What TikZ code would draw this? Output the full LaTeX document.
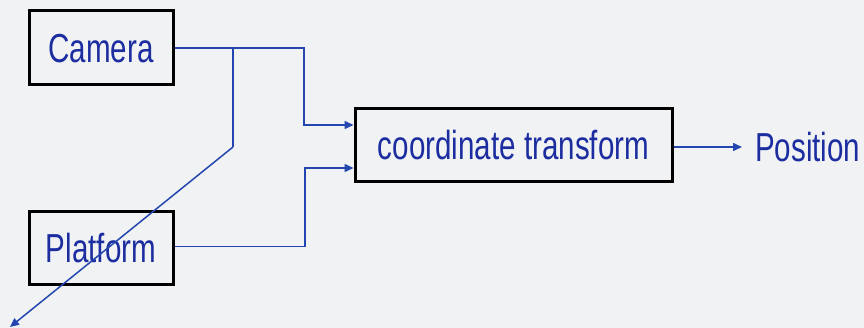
\documentclass[tikz,border=0pt]{standalone}
\usepackage{fontspec}
\usetikzlibrary{arrows.meta,calc}
\newfontfamily\diagfont{Liberation Sans}[FakeStretch=0.73]
\definecolor{paper}{RGB}{241,242,244}
\definecolor{inkblue}{RGB}{28,45,160}
\definecolor{wireblue}{RGB}{35,70,175}
\tikzset{
  block/.style={draw=black, line width=3pt, rectangle, inner sep=0pt,
    text=inkblue, font=\diagfont\fontsize{40.5}{48}\selectfont,
    text height=29pt, text depth=0pt},
  label/.style={text=inkblue, font=\diagfont\fontsize{40.5}{48}\selectfont,
    text height=29pt, text depth=0pt, inner ysep=0pt},
  wire/.style={draw=wireblue, line width=1.5pt},
  flow/.style={wire, -{Triangle[length=9pt,width=8pt]}}
}
\begin{document}
\begin{tikzpicture}[x=1pt,y=-1pt]
  % page area
  \fill[paper] (0,0) rectangle (864,328);
  \useasboundingbox (0,0) rectangle (864,328);

  % blocks
  \node[block, minimum width=144pt, minimum height=74pt] (cam) at (101,48) {Camera};
  \node[block, minimum width=144pt, minimum height=73pt] (plat) at (101,248) {Platform};
  \node[block, minimum width=317pt, minimum height=73pt] (ct) at (513.5,145.5) {coordinate transform};
  \node[label, anchor=west, inner xsep=13pt] (pos) at (742,147) {Position};

  % routing points
  \coordinate (split) at (233,48);
  \coordinate (bend) at (233,147);
  \coordinate (away) at (10,327);

  % connectors
  \draw[flow] (cam.east) -- (304,48) |- ($(ct.west)+(0,-20.5)$);
  \draw[flow] (plat.east) ++(0,-1.5) -- (305,246.5) |- ($(ct.west)+(0,22.5)$);
  \draw[wire] (split) -- (bend);
  \draw[flow] (bend) -- (away);
  \draw[flow] (ct.east |- pos.west) -- (pos.west);
\end{tikzpicture}
\end{document}
